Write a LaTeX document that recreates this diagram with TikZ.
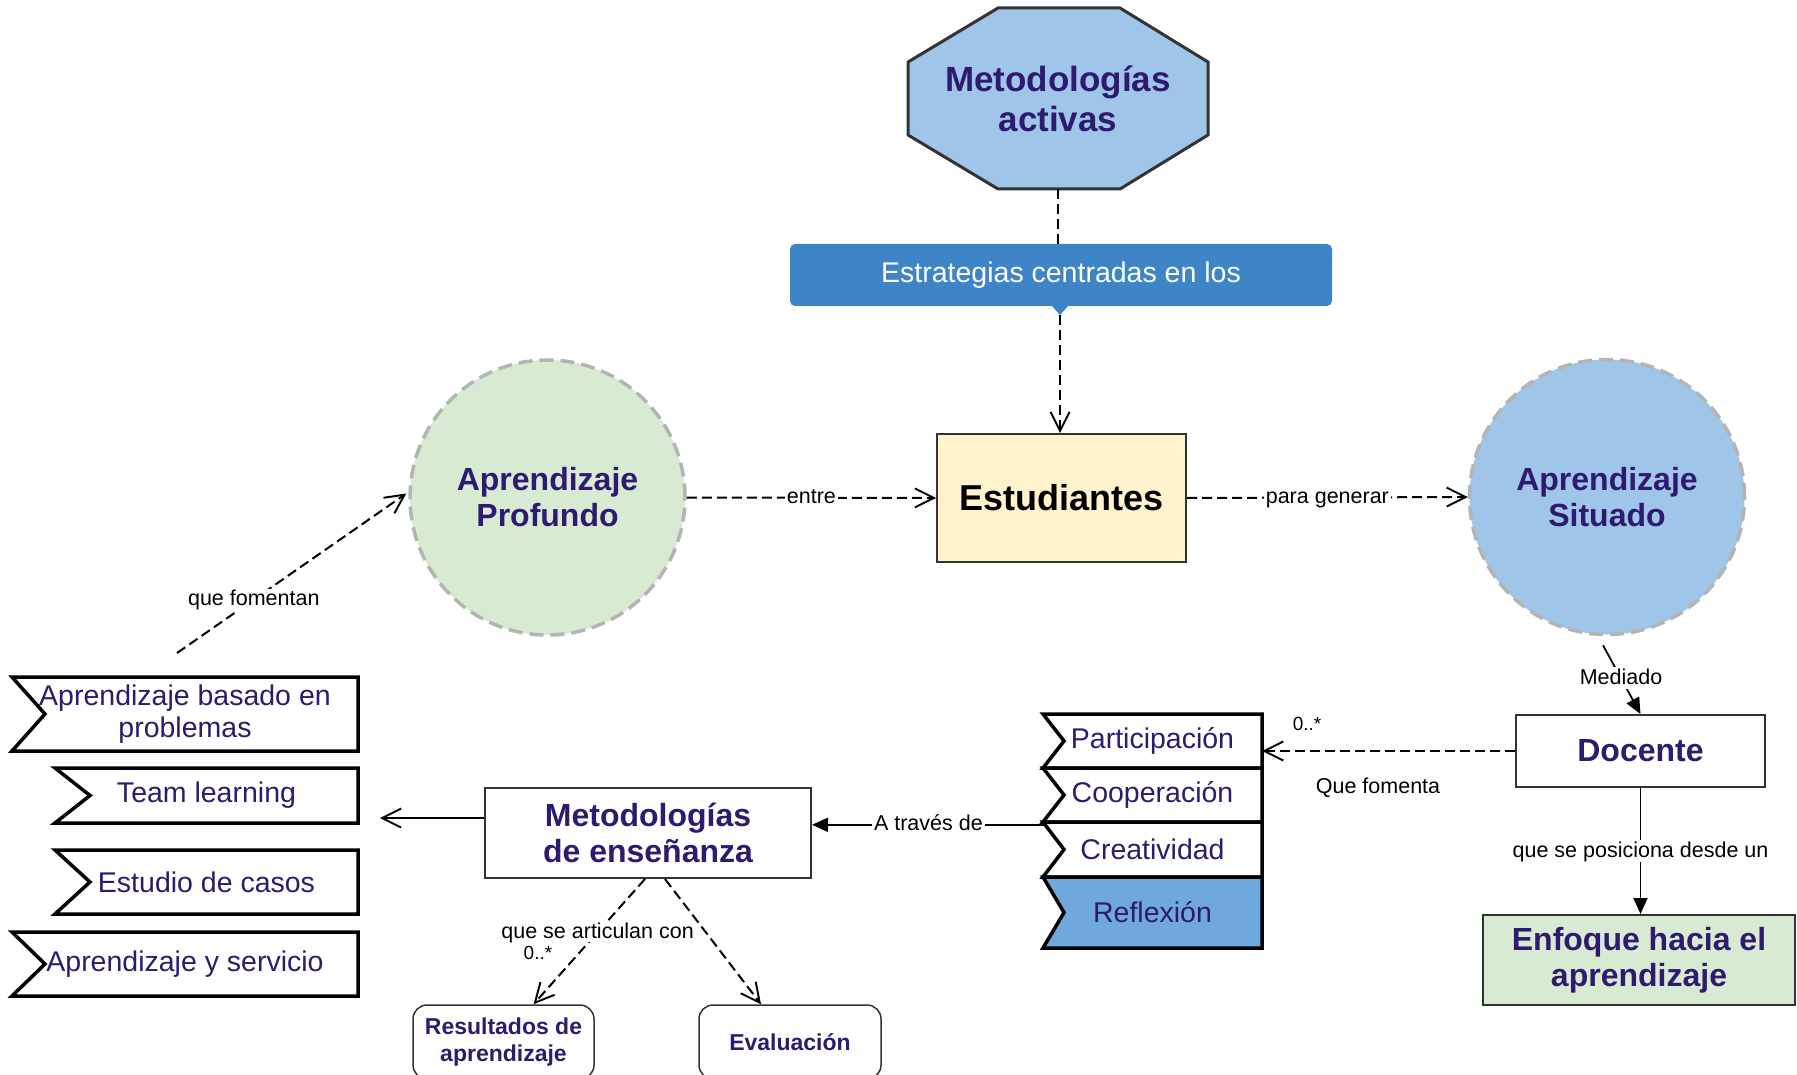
\documentclass[tikz,border=0pt]{standalone}
\usepackage{fontspec}
\setmainfont{Liberation Sans}
\usetikzlibrary{arrows.meta,calc}
\definecolor{txtpurple}{HTML}{2E1A6E}
\definecolor{lightblue}{HTML}{9FC5E8}
\definecolor{calloutfill}{HTML}{3D85C6}
\definecolor{estfill}{HTML}{FFF2CC}
\definecolor{greenfill}{HTML}{D9EAD3}
\definecolor{reflfill}{HTML}{6FA8DC}
\definecolor{dashgray}{HTML}{B4B4B4}
\definecolor{edgegray}{HTML}{333333}
\newcommand\myfs[2]{\fontsize{#1}{#2}\selectfont}
\begin{document}
\begin{tikzpicture}[x=1pt,y=-1pt,
  dashedline/.style={line width=2pt, dash pattern=on 10pt off 5pt},
  solidline/.style={line width=1.8pt},
  openhead/.style={-{Straight Barb[length=19pt,width=19pt,line width=1.9pt]}},
  filledhead/.style={-{Triangle[length=16pt,width=14pt]}},
  elabel/.style={fill=white, inner sep=2pt, font=\myfs{21.5}{24}, text=black, text height=15pt, text depth=3pt},
  smalllabel/.style={inner sep=1pt, font=\myfs{19}{22}, text=black},
  boldtext/.style={text=txtpurple, font=\myfs{32}{36}\bfseries, align=center},
  boxnode/.style={draw=edgegray, line width=2pt, fill=white},
  bubble/.style={circle, draw=dashgray, line width=3.5pt, dash pattern=on 14pt off 7pt, minimum size=275pt, boldtext},
  stepline/.style={draw=black, line width=3.5pt, line join=miter},
  steptext/.style={text=txtpurple, font=\myfs{28.5}{32}, align=center, inner sep=0pt},
  roundbox/.style={draw=edgegray, line width=1.5pt, rounded corners=14pt, fill=white, text=txtpurple, font=\myfs{23}{27}\bfseries, align=center}
]
\useasboundingbox (0,0) rectangle (1797,1075);

% --- Octagon: Metodologias activas
\draw[line width=3pt, draw=edgegray, fill=lightblue, line join=miter]
  (998,8) -- (1120,8) -- (1208,62) -- (1208,135) -- (1120,189) -- (998,189) -- (908,135) -- (908,62) -- cycle;
\node[minimum width=300pt, minimum height=181pt, text=txtpurple, font=\myfs{35}{40}\bfseries, align=center] (oct) at (1058,98.5) {Metodologías\\activas};

% --- Callout
\node[fill=calloutfill, rounded corners=5pt, minimum width=542pt, minimum height=62pt, text=white, font=\myfs{28.5}{32}] (call) at (1061,275) {Estrategias centradas en los};
\fill[calloutfill] (1051,305) -- (1060,315) -- (1069,305) -- cycle;
\coordinate (calltip) at (1060,315);

% --- Estudiantes
\node[draw=edgegray, line width=2pt, fill=estfill, minimum width=249pt, minimum height=128pt, font=\myfs{36}{40}\bfseries] (est) at (1061.5,498) {Estudiantes};

% --- Circles
\node[bubble, fill=greenfill] (prof) at (547.5,497.5) {Aprendizaje\\Profundo};
\node[bubble, fill=lightblue] (sit) at (1607,497) {Aprendizaje\\Situado};

% --- Docente, Enfoque
\node[boxnode, minimum width=249pt, minimum height=72pt, boldtext] (doc) at (1640.5,751) {Docente};
\node[boxnode, fill=greenfill, minimum width=312pt, minimum height=90pt, boldtext] (enf) at (1639,960) {Enfoque hacia el\\aprendizaje};

% --- Metodologias de ensenanza
\node[boxnode, minimum width=326pt, minimum height=90pt, boldtext] (met) at (648,833) {Metodologías\\de enseñanza};

% --- Resultados, Evaluacion
\node[roundbox, minimum width=181pt, minimum height=74pt] (res) at (503.5,1042) {Resultados de\\aprendizaje};
\node[roundbox, minimum width=182pt, minimum height=74pt] (eval) at (790,1042) {Evaluación};

% --- Right stack of steps
\draw[stepline, fill=white] (1043,714) -- (1262,714) -- (1262,768) -- (1043,768) -- (1064,741) -- cycle;
\node[steptext, minimum width=219pt, minimum height=54pt] (part) at (1152.5,741) {Participación};
\draw[stepline, fill=white] (1043,768) -- (1262,768) -- (1262,822) -- (1043,822) -- (1064,795) -- cycle;
\node[steptext, minimum width=219pt, minimum height=54pt] (coop) at (1152.5,795) {Cooperación};
\draw[stepline, fill=white] (1043,822) -- (1262,822) -- (1262,877) -- (1043,877) -- (1064,849.5) -- cycle;
\node[steptext, minimum width=219pt, minimum height=55pt] (crea) at (1152.5,849.5) {Creatividad};
\draw[stepline, fill=reflfill] (1043,877) -- (1262,877) -- (1262,948) -- (1043,948) -- (1064,912.5) -- cycle;
\node[steptext, minimum width=219pt, minimum height=71pt] (refl) at (1152.5,912.5) {Reflexión};

% --- Left steps
\draw[stepline, fill=white] (12,677) -- (358,677) -- (358,751) -- (12,751) -- (45,714) -- cycle;
\node[steptext, minimum width=346pt, minimum height=74pt] (pbl) at (185,714) {Aprendizaje basado en\\problemas};
\draw[stepline, fill=white] (55,768) -- (358,768) -- (358,823) -- (55,823) -- (90,795.5) -- cycle;
\node[steptext, minimum width=303pt, minimum height=55pt] (team) at (206.5,795.5) {Team learning};
\draw[stepline, fill=white] (55,850) -- (358,850) -- (358,914) -- (55,914) -- (90,882) -- cycle;
\node[steptext, minimum width=303pt, minimum height=64pt] (casos) at (206.5,882) {Estudio de casos};
\draw[stepline, fill=white] (12,932) -- (358,932) -- (358,996) -- (12,996) -- (45,964) -- cycle;
\node[steptext, minimum width=346pt, minimum height=64pt] (serv) at (185,964) {Aprendizaje y servicio};

% --- Connectors
\draw[dashedline] (oct.south) -- (oct.south |- call.north);
\draw[dashedline, openhead] (calltip) -- (calltip |- est.north);
\draw[dashedline, openhead] (prof.east) -- node[elabel] (lentre) {entre} (est.west);
\draw[dashedline, openhead] (est.east) -- node[elabel] (lpara) {para generar} (sit.west);

\coordinate (qfstart) at (177,653);
\draw[dashedline, openhead] (qfstart) -- node[elabel, pos=0.335] (lqf) {que fomentan} ($(prof.west)+(-2,-4)$);

\draw[solidline, filledhead] ($(sit.south)+(-4,9)$) -- node[elabel, pos=0.48] (lmed) {Mediado} (doc.north);
\draw[solidline, filledhead] (doc.south) -- node[elabel, pos=0.5] (lpos) {que se posiciona desde un} (doc.south |- enf.north);

\draw[dashedline, openhead] (doc.west) -- (doc.west -| part.east);
\node[smalllabel] (lmult1) at (1307,724) {0..*};
\node[elabel, fill=none] (lfom) at (1378,787) {Que fomenta};

\coordinate (creaconn) at ($(crea.north west)+(2,3)$);
\draw[solidline, filledhead] (creaconn) -- node[elabel, pos=0.5] (latr) {A través de} (met.east |- creaconn);

\coordinate (lefttip) at (380,818);
\draw[solidline, openhead] ($(met.west)+(0,-15)$) -- (lefttip);

\draw[dashedline, openhead] ($(met.south)+(-3,0)$) -- node[elabel, pos=0.425, inner sep=1pt] (lart) {que se articulan con} ($(res.north)+(30,0)$);
\node[smalllabel] (lmult2) at (538,953) {0..*};
\draw[dashedline, openhead] ($(met.south)+(17,0)$) -- ($(eval.north)+(-29,0)$);
\end{tikzpicture}
\end{document}
